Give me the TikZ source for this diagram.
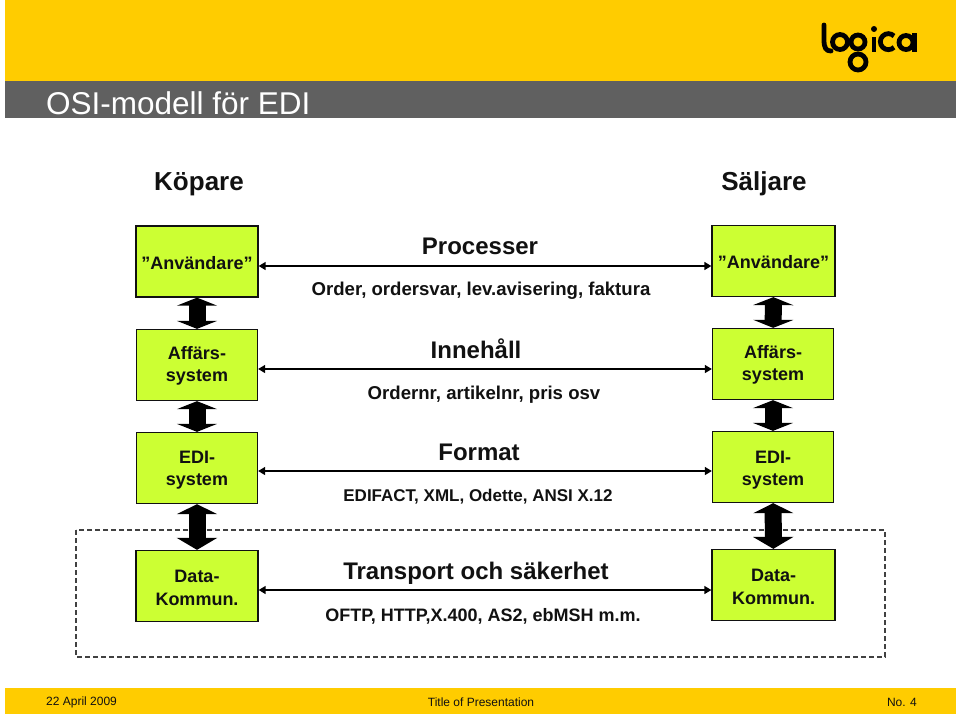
\documentclass[tikz,border=0pt]{standalone}
\usepackage{fontspec}
\setmainfont{Liberation Sans}
\usetikzlibrary{arrows.meta,calc}
\definecolor{logyellow}{HTML}{FFCC00}
\definecolor{loggray}{HTML}{606060}
\definecolor{boxgreen}{HTML}{CCFF33}
\definecolor{inkdark}{HTML}{111111}
\newcommand\lowered[2]{\raisebox{-#1pt}[\height][\depth]{\begin{tabular}{@{}c@{}}#2\end{tabular}}}
\tikzset{
  sysbox/.style={draw=inkdark,fill=boxgreen,line width=1.3pt,minimum width=121pt,minimum height=71pt,inner sep=0pt,align=center,font=\bfseries\fontsize{18}{22.5}\selectfont,text=inkdark},
  fat/.style={line width=17pt,draw=black,{Triangle[width=40pt,length=8pt]}-{Triangle[width=40pt,length=8pt]}},
  thin/.style={line width=1.4pt,draw=black,{Triangle[width=8pt,length=7pt]}-{Triangle[width=8pt,length=7pt]}},
  head/.style={inner sep=0pt,font=\bfseries\fontsize{24}{28}\selectfont,text=inkdark},
  sub/.style={inner sep=0pt,font=\bfseries\fontsize{18.6}{22}\selectfont,text=inkdark},
  party/.style={inner sep=0pt,font=\bfseries\fontsize{26}{30}\selectfont,text=inkdark},
  foot/.style={inner sep=0pt,font=\fontsize{12}{15}\selectfont,text=inkdark},
  logo/.style={line width=4.8pt,draw=black}
}
\begin{document}
\begin{tikzpicture}[x=1pt,y=-1pt]
\useasboundingbox (0,0) rectangle (960,716);
\fill[white] (0,0) rectangle (960,716);
\fill[logyellow] (5,0) rectangle (956,81);
\fill[loggray] (5,81) rectangle (956,118);
\node[inner sep=0pt,anchor=west,text=white,font=\fontsize{31.5}{36}\selectfont] (title) at (46,103) {OSI-modell för EDI};
% logo
\draw[logo,line cap=round] (824,25) -- (824,40) .. controls (824,48) and (826,51) .. (831,51);
\draw[logo] (840,42) circle (7.5);
\draw[logo] (858,42) circle (7);
\draw[logo] (858,62) circle (8);
\draw[logo] (874,37) -- (874,52);
\fill (874,29) circle (3);
\draw[logo] (894,36) arc (-45:-315:8);
\draw[logo] (906,42.5) circle (7);
\draw[logo] (914.5,33) -- (914.5,52);
% parties
\node[party] (kop) at (199,184) {Köpare};
\node[party] (salj) at (764,184) {Säljare};
% boxes
\node[sysbox,minimum width=122pt] (u1) at (197,261.5) {\lowered{3}{”Användare”}};
\node[sysbox] (a1) at (197,365) {\lowered{1}{Affärs-\\system}};
\node[sysbox] (e1) at (197,468) {\lowered{2}{EDI-\\system}};
\node[sysbox,minimum width=122pt] (d1) at (197,586) {\lowered{3.5}{Data-\\Kommun.}};
\node[sysbox,minimum width=123pt] (u2) at (773.5,261) {\lowered{3}{”Användare”}};
\node[sysbox] (a2) at (773,364) {\lowered{1}{Affärs-\\system}};
\node[sysbox] (e2) at (773,467) {\lowered{3}{EDI-\\system}};
\node[sysbox,minimum width=123pt] (d2) at (773.5,585) {\lowered{3.5}{Data-\\Kommun.}};
% dashed frame
\draw[line width=1.2pt,draw=inkdark!80,dash pattern=on 5pt off 3pt] (76,530) rectangle (885,657);
% fat arrows
\draw[fat] (u1) -- (a1);
\draw[fat] (a1) -- (e1);
\draw[fat,{Triangle[width=40pt,length=10pt]}-{Triangle[width=40pt,length=12pt]}] (e1) -- (d1);
\draw[fat] (u2) -- (a2);
\draw[fat] (a2) -- (e2);
\draw[fat,{Triangle[width=40pt,length=10pt]}-{Triangle[width=40pt,length=12pt]}] (e2) -- (d2);
% thin arrows
\coordinate (r1) at (0,266);
\coordinate (r2) at (0,369);
\coordinate (r3) at (0,471);
\coordinate (r4) at (0,590);
\draw[thin] (u1.east |- r1) -- (u2.west |- r1);
\draw[thin] (a1.east |- r2) -- (a2.west |- r2);
\draw[thin] (e1.east |- r3) -- (e2.west |- r3);
\draw[thin] (d1.east |- r4) -- (d2.west |- r4);
% labels
\node[head] (l1) at (480,246) {Processer};
\node[sub] (s1) at (481,291) {Order, ordersvar, lev.avisering, faktura};
\node[head] (l2) at (476,349) {Innehåll};
\node[sub] (s2) at (484,395) {Ordernr, artikelnr, pris osv};
\node[head] (l3) at (479,452) {Format};
\node[sub,font=\bfseries\fontsize{17}{22}\selectfont] (s3) at (478,497) {EDIFACT, XML, Odette, ANSI X.12};
\node[head] (l4) at (476,573) {Transport och säkerhet};
\node[sub,font=\bfseries\fontsize{18}{22}\selectfont] (s4) at (483,616) {OFTP, HTTP,X.400, AS2, ebMSH m.m.};
% footer
\fill[logyellow] (5,688) rectangle (956,714);
\node[foot,anchor=west] (f1) at (46,702) {22 April 2009};
\node[foot] (f2) at (481,702) {Title of Presentation};
\node[foot,anchor=east] (f3) at (917,702) {No. 4};
\end{tikzpicture}
\end{document}
